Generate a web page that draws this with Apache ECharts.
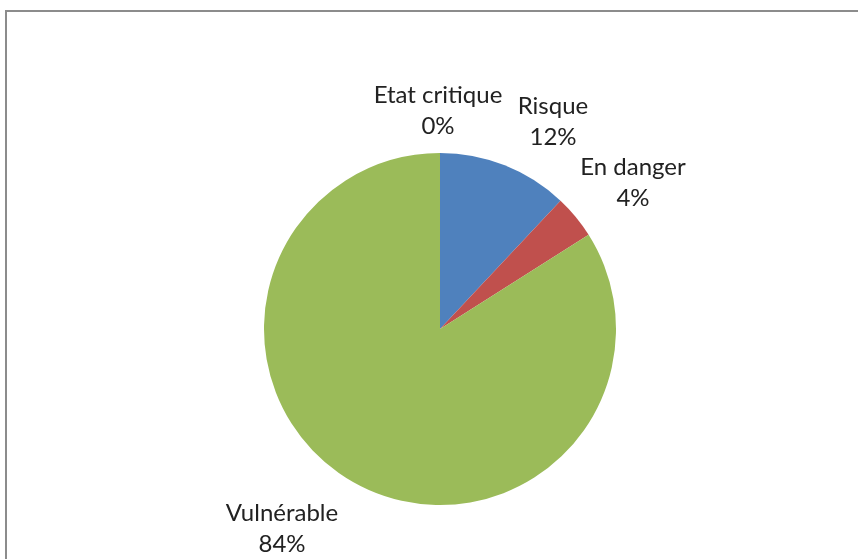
<!DOCTYPE html>
<html>
<head>
<meta charset="utf-8">
<script src="https://cdn.jsdelivr.net/npm/echarts@6/dist/echarts.min.js"></script>
<style>
  html, body { margin: 0; padding: 0; background: #fff; }
  #chart { width: 858px; height: 559px; }
</style>
</head>
<body>
<div id="chart"></div>
<script>
// Share of each status, in percent
const categories = ['Etat critique', 'Risque', 'En danger', 'Vulnérable'];
const shares = [0, 12, 4, 84];
const colors = ['#F79646', '#4F81BD', '#C0504D', '#9BBB59'];

// Label anchor points (block centres), one per category
const labelAnchors = [[438, 111], [553, 122], [633, 183], [282, 529]];

const chart = echarts.init(document.getElementById('chart'));
chart.setOption({
  backgroundColor: '#ffffff',
  animation: false,
  graphic: [{
    type: 'rect',
    shape: { x: 6, y: 11, width: 900, height: 600 },
    style: { fill: 'none', stroke: '#8c8c8c', lineWidth: 2 },
    silent: true
  }],
  series: [{
    type: 'pie',
    center: [440, 329],
    radius: 176,
    startAngle: 90,
    clockwise: true,
    avoidLabelOverlap: false,
    data: categories.map((name, i) => ({
      name: name,
      value: shares[i],
      itemStyle: { color: colors[i] }
    })),
    label: {
      show: true,
      position: 'outside',
      formatter: p => p.name + '\n' + p.value + '%',
      fontFamily: 'Lato',
      fontSize: 24,
      lineHeight: 31,
      color: '#222222',
      align: 'center'
    },
    labelLine: { show: false },
    labelLayout: p => ({
      x: labelAnchors[p.dataIndex][0],
      y: labelAnchors[p.dataIndex][1],
      align: 'center',
      verticalAlign: 'middle',
      hideOverlap: false
    }),
    emphasis: { disabled: true }
  }]
});
</script>
</body>
</html>
